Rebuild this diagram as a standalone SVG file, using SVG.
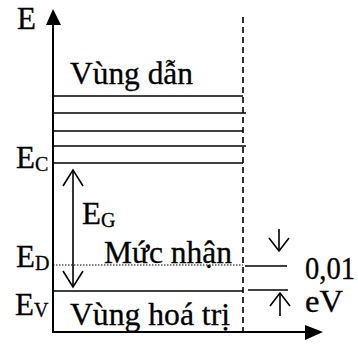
<svg xmlns="http://www.w3.org/2000/svg" width="358" height="356" viewBox="0 0 358 356">
<style>
text{font-family:"Liberation Serif","Times New Roman",serif;font-size:31px;fill:#000;stroke:#000;stroke-width:0.3}
.sub{font-size:20px}
.ln{stroke:#000;stroke-width:1.6;fill:none}
.ax{stroke:#000;stroke-width:2;fill:none}
.ah{fill:none;stroke:#000;stroke-width:1.6}
</style>
<rect width="358" height="356" fill="#fff"/>
<g id="axes">
<line class="ax" x1="53" y1="22" x2="53" y2="333"/>
<polygon points="53,9 46,25 61,25" fill="#000"/>
<line class="ax" x1="52" y1="332" x2="308" y2="332"/>
<polygon points="323,332 305,325 305,340" fill="#000"/>
<text id="label-E" x="17" y="29">E</text>
</g>
<g id="boundary">
<line x1="243" y1="17" x2="243" y2="332" stroke="#000" stroke-width="1.6" stroke-dasharray="6 4"/>
</g>
<g id="conduction-band">
<line class="ln" x1="53" y1="96" x2="243" y2="96"/>
<line class="ln" x1="53" y1="113" x2="246" y2="113"/>
<line class="ln" x1="53" y1="131" x2="243" y2="131"/>
<line class="ln" x1="53" y1="146" x2="246" y2="146"/>
<line class="ln" x1="53" y1="163" x2="243" y2="163"/>
<text x="70" y="84" textLength="123" lengthAdjust="spacingAndGlyphs">Vùng dẫn</text>
<text x="16" y="168">E<tspan class="sub" dy="3">C</tspan></text>
</g>
<g id="gap">
<line class="ln" x1="73" y1="170" x2="73" y2="287"/>
<polyline class="ah" points="63,186 73,170 83,186"/>
<polyline class="ah" points="63,271 73,287 83,271"/>
<text x="82" y="224">E<tspan class="sub" dy="3">G</tspan></text>
</g>
<g id="acceptor-level">
<line x1="53" y1="265" x2="243" y2="265" stroke="#000" stroke-width="1" stroke-dasharray="1.5 1.5"/>
<text x="104" y="263" textLength="128" lengthAdjust="spacingAndGlyphs">Mức nhận</text>
<text x="16" y="267">E<tspan class="sub" dy="3">D</tspan></text>
</g>
<g id="valence-band">
<line class="ln" x1="53" y1="291" x2="243" y2="291"/>
<text x="70" y="325" textLength="160" lengthAdjust="spacingAndGlyphs">Vùng hoá trị</text>
<text x="15" y="315">E<tspan class="sub" dy="2">V</tspan></text>
</g>
<g id="energy-difference">
<line class="ln" x1="245" y1="266" x2="287" y2="266"/>
<line class="ln" x1="248" y1="290" x2="288" y2="290"/>
<line class="ln" x1="279" y1="229" x2="279" y2="251"/>
<polyline class="ah" points="269,238 279,251 289,238"/>
<line class="ln" x1="280" y1="293" x2="280" y2="316"/>
<polyline class="ah" points="270,306 280,293 290,306"/>
<text x="305" y="279" textLength="50" lengthAdjust="spacingAndGlyphs">0,01</text>
<text x="305" y="312" textLength="38" lengthAdjust="spacingAndGlyphs">eV</text>
</g>
</svg>
